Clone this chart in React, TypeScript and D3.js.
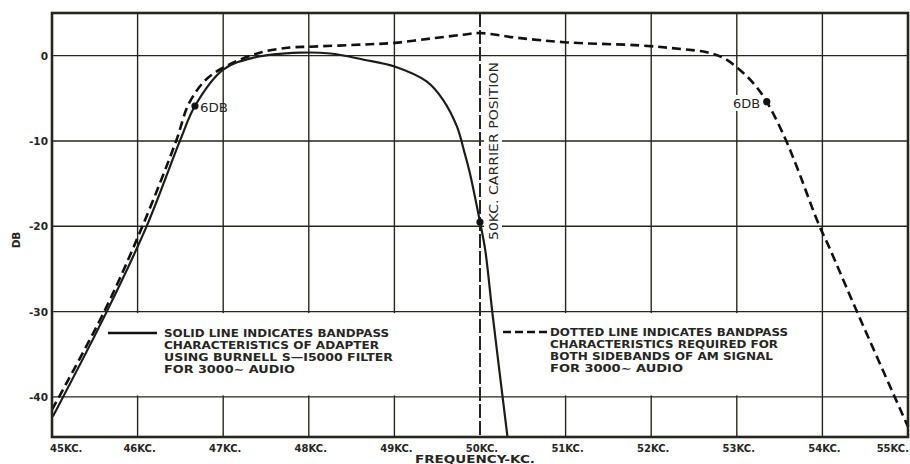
import React from "react";
import * as d3 from "d3";

const W = 910;
const H = 464;

const freqTicks = [45, 46, 47, 48, 49, 50, 51, 52, 53, 54, 55];
const freqLabels = ["45KC.", "46KC.", "47KC.", "48KC.", "49KC.", "50KC.", "51KC.", "52KC.", "53KC.", "54KC.", "55KC."];
const dbTicks = [0, -10, -20, -30, -40];
const dbLabels = ["0", "-10", "-20", "-30", "-40"];

// Solid line: Burnell S-15000 filter adapter
const solidFreq = [45.01, 45.65, 46.11, 46.5, 46.67, 47.0, 47.35, 47.9, 48.25, 48.63, 49.01, 49.38, 49.57, 49.73, 49.82, 49.88, 50.0, 50.06, 50.15, 50.32];
const solidDb = [-42.3, -29.8, -19.9, -9.85, -5.9, -1.65, -0.25, 0.35, 0.25, -0.45, -1.3, -3.05, -5.2, -8.3, -11.4, -13.7, -19.5, -22.7, -30.6, -44.6];

// Dotted line: required bandpass for both sidebands
const dashFreq = [45.0, 45.62, 46.06, 46.45, 46.6, 46.8, 47.04, 47.43, 47.78, 48.01, 48.63, 49.0, 49.42, 49.8, 50.0, 50.43, 51.02, 51.87, 52.37, 52.65, 52.85, 53.05, 53.2, 53.35, 53.56, 53.7, 53.95, 54.09, 54.36, 55.0];
const dashDb = [-41.5, -29.8, -19.9, -10.0, -5.6, -2.8, -1.2, 0.35, 0.95, 1.05, 1.3, 1.5, 2.0, 2.45, 2.65, 2.1, 1.55, 1.2, 0.75, 0.4, -0.3, -1.8, -3.3, -5.4, -9.6, -13.0, -19.6, -22.7, -29.0, -43.5];

const markerFreq = [46.67, 53.35, 50.0];
const markerDb = [-5.9, -5.4, -19.5];

const solidLegend = ["SOLID LINE INDICATES BANDPASS", "CHARACTERISTICS OF ADAPTER", "USING BURNELL S\u2014I5000 FILTER", "FOR 3000\u223C AUDIO"];
const solidLegendW = [225, 215, 229, 131];
const dashLegend = ["DOTTED LINE INDICATES BANDPASS", "CHARACTERISTICS REQUIRED FOR", "BOTH SIDEBANDS OF AM SIGNAL", "FOR 3000\u223C AUDIO"];
const dashLegendW = [238, 228, 223, 133];

const INK = "#26261f";
const FONT = "'DejaVu Sans', sans-serif";

export default function App() {
  const x = d3.scaleLinear().domain([45, 55]).range([52, 908]);
  const y = d3.scaleLinear().domain([5, -44.7]).range([13, 437]);

  const solidPts: [number, number][] = solidFreq.map((f, i) => [f, solidDb[i]]);
  const dashPts: [number, number][] = dashFreq.map((f, i) => [f, dashDb[i]]);
  const line = d3
    .line<[number, number]>()
    .x((d) => x(d[0]))
    .y((d) => y(d[1]))
    .curve(d3.curveCatmullRom.alpha(0.5));

  const x0 = x(45), x1 = x(55), y0 = y(5), y1 = y(-44.7);

  return (
    <svg width={W} height={H} style={{ position: "absolute", left: 0, top: 0, background: "#fff" }}>
      <defs>
        <clipPath id="plot">
          <rect x={x0} y={y0} width={x1 - x0} height={y1 - y0} />
        </clipPath>
      </defs>
      <rect x={0} y={0} width={W} height={H} fill="#fff" />
      {/* grid */}
      {freqTicks.slice(1, -1).filter((f) => f !== 50).map((f) => (
        <line key={"gx" + f} x1={x(f)} x2={x(f)} y1={y0} y2={y1} stroke={INK} strokeWidth={1.4} />
      ))}
      {dbTicks.map((d) => (
        <line key={"gy" + d} x1={x0} x2={x1} y1={y(d)} y2={y(d)} stroke={INK} strokeWidth={1.4} />
      ))}
      {/* legend knockouts */}
      <rect x={122} y={y(-30) + 1.5} width={350} height={y(-40) - y(-30) - 3} fill="#fff" />
      <rect x={508} y={y(-30) + 1.5} width={305} height={y(-40) - y(-30) - 3} fill="#fff" />
      {/* carrier label knockout */}
      <rect x={484} y={60} width={18} height={184} fill="#fff" />
      {/* right 6DB knockout */}
      <rect x={732} y={95} width={29} height={16} fill="#fff" />
      {/* carrier line */}
      <line x1={x(50)} x2={x(50)} y1={y0} y2={y1} stroke={INK} strokeWidth={2} strokeDasharray="14,3" />
      {/* curves */}
      <g clipPath="url(#plot)">
        <path d={line(dashPts) || ""} fill="none" stroke="#111" strokeWidth={2.6} strokeDasharray="9,5" />
        <path d={line(solidPts) || ""} fill="none" stroke="#1c1c18" strokeWidth={2.2} />
      </g>
      {markerFreq.map((f, i) => (
        <circle key={"m" + i} cx={x(f)} cy={y(markerDb[i])} r={3.6} fill="#111" />
      ))}
      <text x={200} y={112} fontFamily={FONT} fontSize={12} fill={INK} textLength={28} lengthAdjust="spacingAndGlyphs">6DB</text>
      <text x={733} y={108} fontFamily={FONT} fontSize={12} fill={INK} textLength={27} lengthAdjust="spacingAndGlyphs">6DB</text>
      {/* carrier text */}
      <text
        transform={`translate(498,240) rotate(-90)`}
        fontFamily={FONT}
        fontSize={12.5}
        fill={INK}
        textLength={178}
        lengthAdjust="spacingAndGlyphs"
      >
        50KC. CARRIER POSITION
      </text>
      {/* legends */}
      <line x1={108} x2={157} y1={333} y2={333} stroke="#111" strokeWidth={2.6} />
      {solidLegend.map((t, i) => (
        <text key={"sl" + i} x={164} y={337 + i * 12} fontFamily={FONT} fontWeight="bold" fontSize={10.2} fill={INK}
          textLength={solidLegendW[i]} lengthAdjust="spacingAndGlyphs">{t}</text>
      ))}
      <line x1={503} x2={548} y1={332} y2={332} stroke="#111" strokeWidth={2.6} strokeDasharray="8,4" />
      {dashLegend.map((t, i) => (
        <text key={"dl" + i} x={550} y={336 + i * 12} fontFamily={FONT} fontWeight="bold" fontSize={10.2} fill={INK}
          textLength={dashLegendW[i]} lengthAdjust="spacingAndGlyphs">{t}</text>
      ))}
      {/* frame */}
      <rect x={x0} y={y0} width={x1 - x0} height={y1 - y0} fill="none" stroke={INK} strokeWidth={2.6} />
      {/* y tick labels */}
      {dbTicks.map((d, i) => (
        <text key={"yl" + d} x={48} y={y(d) + 4} textAnchor="end" fontFamily={FONT} fontWeight="bold" fontSize={10.5} fill={INK}>
          {dbLabels[i]}
        </text>
      ))}
      <text transform="translate(20,240) rotate(-90)" textAnchor="middle" fontFamily={FONT} fontWeight="bold" fontSize={10.5} fill={INK}>DB</text>
      {/* x tick labels */}
      {freqTicks.map((f, i) => {
        const first = i === 0;
        const last = i === freqTicks.length - 1;
        return (
          <text
            key={"xl" + f}
            x={first ? x(f) - 2 : last ? x(f) + 1 : x(f) + 2}
            y={452}
            textAnchor={first ? "start" : last ? "end" : "middle"}
            fontFamily={FONT}
            fontWeight="bold"
            fontSize={10}
            fill={INK}
          >
            {freqLabels[i]}
          </text>
        );
      })}
      <text x={415} y={463} fontFamily={FONT} fontWeight="bold" fontSize={10.5} fill={INK} textLength={120} lengthAdjust="spacingAndGlyphs">FREQUENCY-KC.</text>
    </svg>
  );
}
